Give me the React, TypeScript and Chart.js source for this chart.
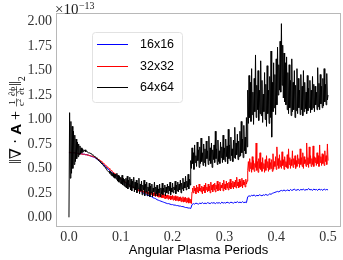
import { useEffect, useRef } from "react";
import { Chart, registerables } from "chart.js";
Chart.register(...registerables);

// sampling intervals (angular plasma periods) between consecutive stored values
const STEP_16 = 0.0025;
const STEP_32 = 0.00125;
const STEP_64 = 0.00125;

const xTickValues = [0, 0.1, 0.2, 0.3, 0.4, 0.5];
const yTickValues = [0, 0.25, 0.5, 0.75, 1.0, 1.25, 1.5, 1.75, 2.0];
const seriesLabels = ["16x16", "32x32", "64x64"];
const seriesColors = ["#0000ff", "#ff0000", "#000000"];

// values in units of 1e-13
const grid16 = [
  0.66, 0.66, 0.66, 0.66, 0.66, 0.66, 0.655, 0.655, 0.65, 0.65, 0.65, 0.645, 0.645,
  0.64, 0.64, 0.635, 0.63, 0.625, 0.62, 0.615, 0.61,
  0.6, 0.59, 0.58, 0.57, 0.56, 0.545, 0.535, 0.52,
  0.51, 0.495, 0.485, 0.47, 0.46, 0.45, 0.44, 0.43,
  0.42, 0.41, 0.4, 0.39, 0.38, 0.37, 0.36, 0.35,
  0.34, 0.335, 0.33, 0.32, 0.31, 0.305, 0.3, 0.29,
  0.28, 0.275, 0.27, 0.26, 0.25, 0.245, 0.24, 0.23,
  0.225, 0.22, 0.215, 0.21, 0.2, 0.195, 0.19, 0.18,
  0.175, 0.17, 0.165, 0.16, 0.155, 0.15, 0.145, 0.14,
  0.14, 0.135, 0.13, 0.13, 0.125, 0.125, 0.12, 0.12,
  0.115, 0.115, 0.11, 0.11, 0.105, 0.1, 0.1, 0.095, 0.095, 0.09,
  0.13, 0.14, 0.135, 0.145, 0.14, 0.135, 0.145, 0.14, 0.15, 0.14,
  0.145, 0.14, 0.15, 0.145, 0.14, 0.15, 0.145, 0.15, 0.14, 0.15,
  0.145, 0.15, 0.14, 0.155, 0.145, 0.15, 0.145, 0.155, 0.15, 0.145,
  0.155, 0.15, 0.145, 0.155, 0.15, 0.16, 0.15, 0.155, 0.15, 0.16, 0.15, 0.155, 0.15,
  0.21, 0.22, 0.215, 0.225, 0.22, 0.23, 0.215, 0.225, 0.22, 0.23,
  0.225, 0.22, 0.23, 0.225, 0.235, 0.225, 0.23, 0.24, 0.235, 0.245,
  0.25, 0.255, 0.26, 0.265, 0.26, 0.27, 0.275, 0.27, 0.28, 0.27,
  0.275, 0.28, 0.27, 0.285, 0.275, 0.28, 0.29, 0.275, 0.28, 0.285,
  0.275, 0.285, 0.28, 0.29, 0.275, 0.285, 0.28, 0.295, 0.28, 0.285,
  0.275, 0.29, 0.28, 0.285, 0.275, 0.29, 0.28, 0.285, 0.275, 0.29, 0.28, 0.285, 0.28,
];

const grid32 = [
  0.665, 0.665, 0.665, 0.66, 0.66, 0.66, 0.66, 0.66,
  0.66, 0.66, 0.655, 0.655, 0.655, 0.655, 0.65, 0.65,
  0.65, 0.65, 0.65, 0.65, 0.645, 0.645, 0.645, 0.645,
  0.645, 0.64, 0.64, 0.64, 0.64, 0.635, 0.635, 0.635,
  0.63, 0.63, 0.63, 0.625, 0.625, 0.62, 0.62, 0.615,
  0.615, 0.61, 0.605, 0.6, 0.6, 0.595, 0.59, 0.585,
  0.58, 0.575, 0.57, 0.565, 0.56, 0.555, 0.55, 0.54,
  0.535, 0.53, 0.525, 0.515, 0.51, 0.505, 0.5, 0.49,
  0.485, 0.48, 0.475, 0.47, 0.46, 0.455, 0.45, 0.445,
  0.44, 0.435, 0.43, 0.425, 0.415, 0.41, 0.405, 0.4,
  0.395, 0.39, 0.385, 0.38, 0.375, 0.37, 0.365, 0.36,
  0.355, 0.35, 0.345, 0.34, 0.335, 0.33, 0.33, 0.325,
  0.32, 0.315, 0.31, 0.31, 0.305, 0.3, 0.295, 0.29,
  0.29, 0.28, 0.29, 0.27, 0.285, 0.27, 0.28, 0.265,
  0.285, 0.26, 0.275, 0.255, 0.27, 0.25, 0.265, 0.245,
  0.27, 0.24, 0.26, 0.235, 0.265, 0.23, 0.255, 0.235,
  0.26, 0.225, 0.25, 0.22, 0.255, 0.215, 0.245, 0.22,
  0.25, 0.21, 0.245, 0.205, 0.24, 0.21, 0.235, 0.2,
  0.24, 0.2, 0.23, 0.195, 0.235, 0.19, 0.225, 0.195,
  0.23, 0.185, 0.225, 0.19, 0.22, 0.18, 0.215, 0.185,
  0.225, 0.175, 0.215, 0.18, 0.22, 0.17, 0.21, 0.175,
  0.215, 0.165, 0.205, 0.17, 0.21, 0.16, 0.2, 0.165,
  0.21, 0.155, 0.2, 0.16, 0.205, 0.15, 0.195, 0.155,
  0.2, 0.145, 0.19, 0.15, 0.185, 0.14, 0.26, 0.3,
  0.25, 0.32, 0.27, 0.3, 0.24, 0.33, 0.26, 0.31,
  0.25, 0.34, 0.27, 0.3, 0.26, 0.32, 0.24, 0.31,
  0.27, 0.33, 0.25, 0.35, 0.28, 0.31, 0.26, 0.34,
  0.27, 0.32, 0.25, 0.36, 0.28, 0.33, 0.26, 0.34,
  0.28, 0.35, 0.26, 0.33, 0.29, 0.37, 0.27, 0.34,
  0.28, 0.36, 0.27, 0.33, 0.3, 0.35, 0.27, 0.38,
  0.29, 0.34, 0.28, 0.37, 0.3, 0.35, 0.28, 0.36,
  0.3, 0.39, 0.29, 0.35, 0.31, 0.37, 0.29, 0.36,
  0.31, 0.38, 0.3, 0.41, 0.32, 0.36, 0.3, 0.39,
  0.31, 0.37, 0.32, 0.4, 0.3, 0.38, 0.33, 0.36,
  0.31, 0.39, 0.34, 0.37, 0.48, 0.57, 0.47, 0.6,
  0.5, 0.56, 0.46, 0.62, 0.49, 0.58, 0.47, 0.55,
  0.51, 0.76, 0.48, 0.57, 0.46, 0.6, 0.5, 0.66,
  0.49, 0.56, 0.47, 0.61, 0.5, 0.55, 0.46, 0.59,
  0.48, 0.63, 0.51, 0.57, 0.47, 0.6, 0.49, 0.56,
  0.5, 0.59, 0.47, 0.65, 0.49, 0.57, 0.52, 0.62,
  0.49, 0.72, 0.53, 0.6, 0.5, 0.64, 0.52, 0.58,
  0.5, 0.67, 0.53, 0.59, 0.49, 0.62, 0.52, 0.57,
  0.51, 0.64, 0.5, 0.7, 0.54, 0.61, 0.5, 0.59,
  0.53, 0.68, 0.51, 0.6, 0.54, 0.63, 0.5, 0.58,
  0.52, 0.64, 0.55, 0.6, 0.51, 0.7, 0.54, 0.61,
  0.52, 0.66, 0.5, 0.62, 0.55, 0.59, 0.52, 0.76,
  0.54, 0.61, 0.51, 0.72, 0.55, 0.63, 0.52, 0.6,
  0.54, 0.73, 0.52, 0.62, 0.56, 0.61, 0.53, 0.66,
  0.55, 0.63, 0.52, 0.74, 0.56, 0.62, 0.53, 0.65,
  0.55, 0.64, 0.53, 0.68, 0.57, 0.63, 0.54, 0.75,
  0.58,
];

const grid64 = [
  0.0, 1.07, 0.4, 0.98, 0.45, 0.93, 0.5, 0.88,
  0.54, 0.84, 0.57, 0.8, 0.6, 0.77, 0.62, 0.75,
  0.64, 0.73, 0.65, 0.71, 0.66, 0.7, 0.67, 0.69,
  0.68, 0.69, 0.67, 0.68, 0.67, 0.67, 0.66, 0.66,
  0.66, 0.655, 0.65, 0.645, 0.64, 0.635, 0.63, 0.625,
  0.62, 0.615, 0.61, 0.6, 0.595, 0.59, 0.58, 0.575,
  0.57, 0.56, 0.555, 0.545, 0.54, 0.53, 0.525, 0.515,
  0.51, 0.5, 0.495, 0.48, 0.48, 0.465, 0.47, 0.45,
  0.47, 0.43, 0.46, 0.42, 0.45, 0.41, 0.44, 0.4,
  0.44, 0.39, 0.45, 0.37, 0.43, 0.36, 0.42, 0.35,
  0.41, 0.34, 0.43, 0.33, 0.4, 0.32, 0.39, 0.31,
  0.4, 0.3, 0.42, 0.29, 0.38, 0.31, 0.41, 0.28,
  0.39, 0.27, 0.37, 0.3, 0.41, 0.26, 0.36, 0.28,
  0.38, 0.25, 0.35, 0.29, 0.4, 0.24, 0.34, 0.27,
  0.37, 0.23, 0.33, 0.28, 0.38, 0.22, 0.34, 0.26,
  0.36, 0.22, 0.31, 0.27, 0.35, 0.21, 0.32, 0.25,
  0.34, 0.21, 0.3, 0.26, 0.36, 0.22, 0.31, 0.24,
  0.33, 0.22, 0.29, 0.25, 0.34, 0.21, 0.3, 0.24,
  0.35, 0.23, 0.3, 0.26, 0.33, 0.22, 0.31, 0.25,
  0.34, 0.24, 0.32, 0.27, 0.36, 0.23, 0.3, 0.26,
  0.35, 0.25, 0.31, 0.28, 0.37, 0.24, 0.33, 0.27,
  0.36, 0.26, 0.34, 0.28, 0.38, 0.25, 0.35, 0.29,
  0.4, 0.27, 0.36, 0.3, 0.42, 0.28, 0.37, 0.31,
  0.44, 0.29, 0.39, 0.33, 0.58, 0.5, 0.71, 0.55,
  0.66, 0.49, 0.74, 0.56, 0.63, 0.52, 0.77, 0.58,
  0.69, 0.51, 0.72, 0.55, 0.81, 0.57, 0.66, 0.53,
  0.75, 0.56, 0.7, 0.52, 0.78, 0.6, 0.68, 0.54,
  0.83, 0.58, 0.71, 0.55, 0.76, 0.51, 0.69, 0.59,
  0.74, 0.56, 0.88, 0.6, 0.7, 0.54, 0.79, 0.57,
  0.68, 0.55, 0.77, 0.61, 0.72, 0.56, 0.84, 0.59,
  0.71, 0.57, 0.8, 0.62, 0.73, 0.55, 0.9, 0.6,
  0.74, 0.58, 0.82, 0.63, 0.7, 0.57, 0.79, 0.61,
  0.92, 0.6, 0.76, 0.64, 0.85, 0.59, 0.78, 0.62,
  0.88, 0.63, 0.98, 0.66, 0.8, 0.61, 0.94, 0.68,
  0.82, 0.65, 1.02, 0.72, 1.3, 0.96, 1.45, 1.02,
  1.38, 0.98, 1.52, 1.05, 1.28, 0.95, 1.42, 1.08,
  1.66, 1.02, 1.35, 1.1, 1.5, 0.99, 1.3, 1.06,
  1.6, 1.04, 1.4, 0.97, 1.26, 1.08, 1.48, 1.0,
  1.36, 0.93, 1.55, 1.06, 1.3, 0.96, 1.44, 1.02,
  1.7, 0.82, 1.38, 1.08, 1.58, 1.12, 1.46, 1.05,
  1.62, 1.15, 1.74, 1.25, 1.56, 1.3, 1.8, 1.28,
  1.98, 1.35, 1.76, 1.22, 1.68, 1.18, 1.58, 1.15,
  1.64, 1.1, 1.48, 1.06, 1.56, 1.12, 1.4, 1.04,
  1.62, 1.08, 1.38, 1.1, 1.5, 1.02, 1.35, 1.09,
  1.52, 1.06, 1.42, 1.12, 1.3, 1.05, 1.46, 1.1,
  1.34, 1.04, 1.5, 1.08, 1.38, 1.11, 1.28, 1.06,
  1.45, 1.09, 1.32, 1.12, 1.4, 1.07, 1.3, 1.1,
  1.44, 1.12, 1.36, 1.08, 1.34, 1.15, 1.28, 1.1,
  1.53, 1.13, 1.37, 1.1, 1.46, 1.16, 1.34, 1.12,
  1.42, 1.14, 1.52, 1.18, 1.36, 1.15, 1.47, 1.2,
  1.25,
];

const seriesValues = [grid16, grid32, grid64];
const seriesSteps = [STEP_16, STEP_32, STEP_64];

const SERIF = '"Liberation Serif", "DejaVu Serif", serif';
const SANS = '"Liberation Sans", "DejaVu Sans", sans-serif';

function drawYTitle(ctx: CanvasRenderingContext2D, cx: number, cy: number) {
  ctx.save();
  ctx.translate(cx, cy);
  ctx.rotate(-Math.PI / 2);
  ctx.fillStyle = "#000";
  ctx.strokeStyle = "#000";
  ctx.textBaseline = "alphabetic";
  ctx.textAlign = "left";
  const big = `16px ${SERIF}`;
  const bold = `bold 15px ${SANS}`;
  const small = `9px ${SERIF}`;
  const tiny = `6px ${SERIF}`;
  const sub = `10px ${SERIF}`;
  const w = (f: string, t: string) => {
    ctx.font = f;
    return ctx.measureText(t).width;
  };
  const p1 = "\u2016\u2207 \u00b7 ";
  const p3 = " + ";
  const wP1 = w(big, p1);
  const wA = w(bold, "A");
  const wP3 = w(big, p3);
  const wF1 = Math.max(w(small, "1"), w(small, "c") + w(tiny, "2")) + 2;
  const wF2 = Math.max(w(small, "\u2202\u03d5"), w(small, "\u2202t")) + 2;
  const wBar = w(big, "\u2016");
  const wSub = w(sub, "2");
  const total = wP1 + wA + wP3 + wF1 + 1 + wF2 + wBar + wSub;
  let x = -total / 2;
  ctx.font = big;
  ctx.fillText(p1, x, 0);
  x += wP1;
  ctx.font = bold;
  ctx.fillText("A", x, 0);
  x += wA;
  ctx.font = big;
  ctx.fillText(p3, x, 0);
  x += wP3;
  const lineY = -4.5;
  const frac = (num: string, den: string, width: number, sup?: string) => {
    ctx.font = small;
    const nw = ctx.measureText(num).width;
    ctx.fillText(num, x + (width - nw) / 2, lineY - 1.5);
    const dw = ctx.measureText(den).width + (sup ? w(tiny, sup) : 0);
    ctx.font = small;
    ctx.fillText(den, x + (width - dw) / 2, lineY + 7.5);
    if (sup) {
      const dw0 = w(small, den);
      ctx.font = tiny;
      ctx.fillText(sup, x + (width - dw) / 2 + dw0, lineY + 4.5);
    }
    ctx.lineWidth = 0.6;
    ctx.beginPath();
    ctx.moveTo(x + 0.5, lineY);
    ctx.lineTo(x + width - 0.5, lineY);
    ctx.stroke();
    x += width;
  };
  frac("1", "c", wF1, "2");
  x += 1;
  frac("\u2202\u03d5", "\u2202t", wF2);
  ctx.font = big;
  ctx.fillText("\u2016", x, 0);
  x += wBar;
  ctx.font = sub;
  ctx.fillText("2", x, 3.5);
  ctx.restore();
}

const decorPlugin = {
  id: "decor",
  afterDraw(chart: any) {
    const { ctx, chartArea } = chart;
    const { left, right, top, bottom } = chartArea;
    ctx.save();
    // frame
    ctx.strokeStyle = "#b8b8b8";
    ctx.lineWidth = 1;
    ctx.strokeRect(left + 0.5, top + 0.5, right - left - 1, bottom - top - 1);

    // exponent label
    ctx.fillStyle = "#222";
    ctx.textBaseline = "alphabetic";
    ctx.textAlign = "left";
    ctx.font = `15px ${SERIF}`;
    ctx.fillText("\u00d710", left - 1, top + 1);
    const ew = ctx.measureText("\u00d710").width;
    ctx.font = `10px ${SERIF}`;
    ctx.fillText("\u221213", left - 1 + ew + 0.5, top - 4);

    // legend
    const bx = left + 36;
    const by = top + 19;
    const bw = 90;
    const bh = 70;
    ctx.fillStyle = "rgba(255,255,255,0.85)";
    ctx.strokeStyle = "#e2e2e2";
    ctx.lineWidth = 1;
    ctx.beginPath();
    (ctx as any).roundRect(bx + 0.5, by + 0.5, bw, bh, 3);
    ctx.fill();
    ctx.stroke();
    ctx.font = `12.5px ${SANS}`;
    ctx.textBaseline = "middle";
    for (let k = 0; k < seriesLabels.length; k++) {
      const yy = Math.round(by + 12 + k * 21.5) + 0.5;
      ctx.beginPath();
      ctx.strokeStyle = seriesColors[k];
      ctx.lineWidth = 1;
      ctx.moveTo(bx + 5, yy);
      ctx.lineTo(bx + 36, yy);
      ctx.stroke();
      ctx.fillStyle = "#000";
      ctx.fillText(seriesLabels[k], bx + 48, yy);
    }

    drawYTitle(ctx, 21, (top + bottom) / 2);
    ctx.restore();
  },
};

export default function App() {
  const ref = useRef<HTMLCanvasElement>(null);
  useEffect(() => {
    if (!ref.current) return;
    const orders = [3, 2, 1];
    const chart = new Chart(ref.current, {
      type: "line",
      data: {
        datasets: seriesValues.map((vals, k) => ({
          label: seriesLabels[k],
          data: vals.map((v, i) => ({ x: i * seriesSteps[k], y: v })),
          borderColor: seriesColors[k],
          backgroundColor: seriesColors[k],
          borderWidth: 1,
          pointRadius: 0,
          tension: 0,
          fill: false,
          order: orders[k],
        })),
      },
      options: {
        animation: false,
        responsive: false,
        devicePixelRatio: 1,
        layout: { padding: { top: 13, right: 2, left: 0, bottom: 0 } },
        plugins: { legend: { display: false }, tooltip: { enabled: false } },
        scales: {
          x: {
            type: "linear",
            min: -0.025,
            max: 0.525,
            afterBuildTicks: (s: any) => {
              s.ticks = xTickValues.map((v) => ({ value: v }));
            },
            afterFit: (s: any) => {
              s.height = 33;
            },
            ticks: {
              callback: (v: any) => Number(v).toFixed(1),
              font: { family: SERIF, size: 14 },
              color: "#333",
              padding: 2,
              maxRotation: 0,
              autoSkip: false,
            },
            grid: { display: false, drawTicks: false },
            border: { display: false },
            title: {
              display: true,
              text: "Angular Plasma Periods",
              font: { family: SANS, size: 13 },
              color: "#000",
              padding: { top: 0, bottom: 2 },
            },
          },
          y: {
            type: "linear",
            min: -0.099,
            max: 2.089,
            afterBuildTicks: (s: any) => {
              s.ticks = yTickValues.map((v) => ({ value: v }));
            },
            afterFit: (s: any) => {
              s.width = 56;
            },
            ticks: {
              callback: (v: any) => Number(v).toFixed(2),
              font: { family: SERIF, size: 14 },
              color: "#333",
              padding: 4,
              autoSkip: false,
            },
            grid: { display: false, drawTicks: false },
            border: { display: false },
          },
        },
      },
      plugins: [decorPlugin],
    } as any);
    return () => chart.destroy();
  }, []);
  return (
    <div style={{ position: "absolute", left: 0, top: 0, width: 343, height: 260, background: "#fff" }}>
      <canvas ref={ref} width={343} height={260} style={{ display: "block" }} />
    </div>
  );
}
